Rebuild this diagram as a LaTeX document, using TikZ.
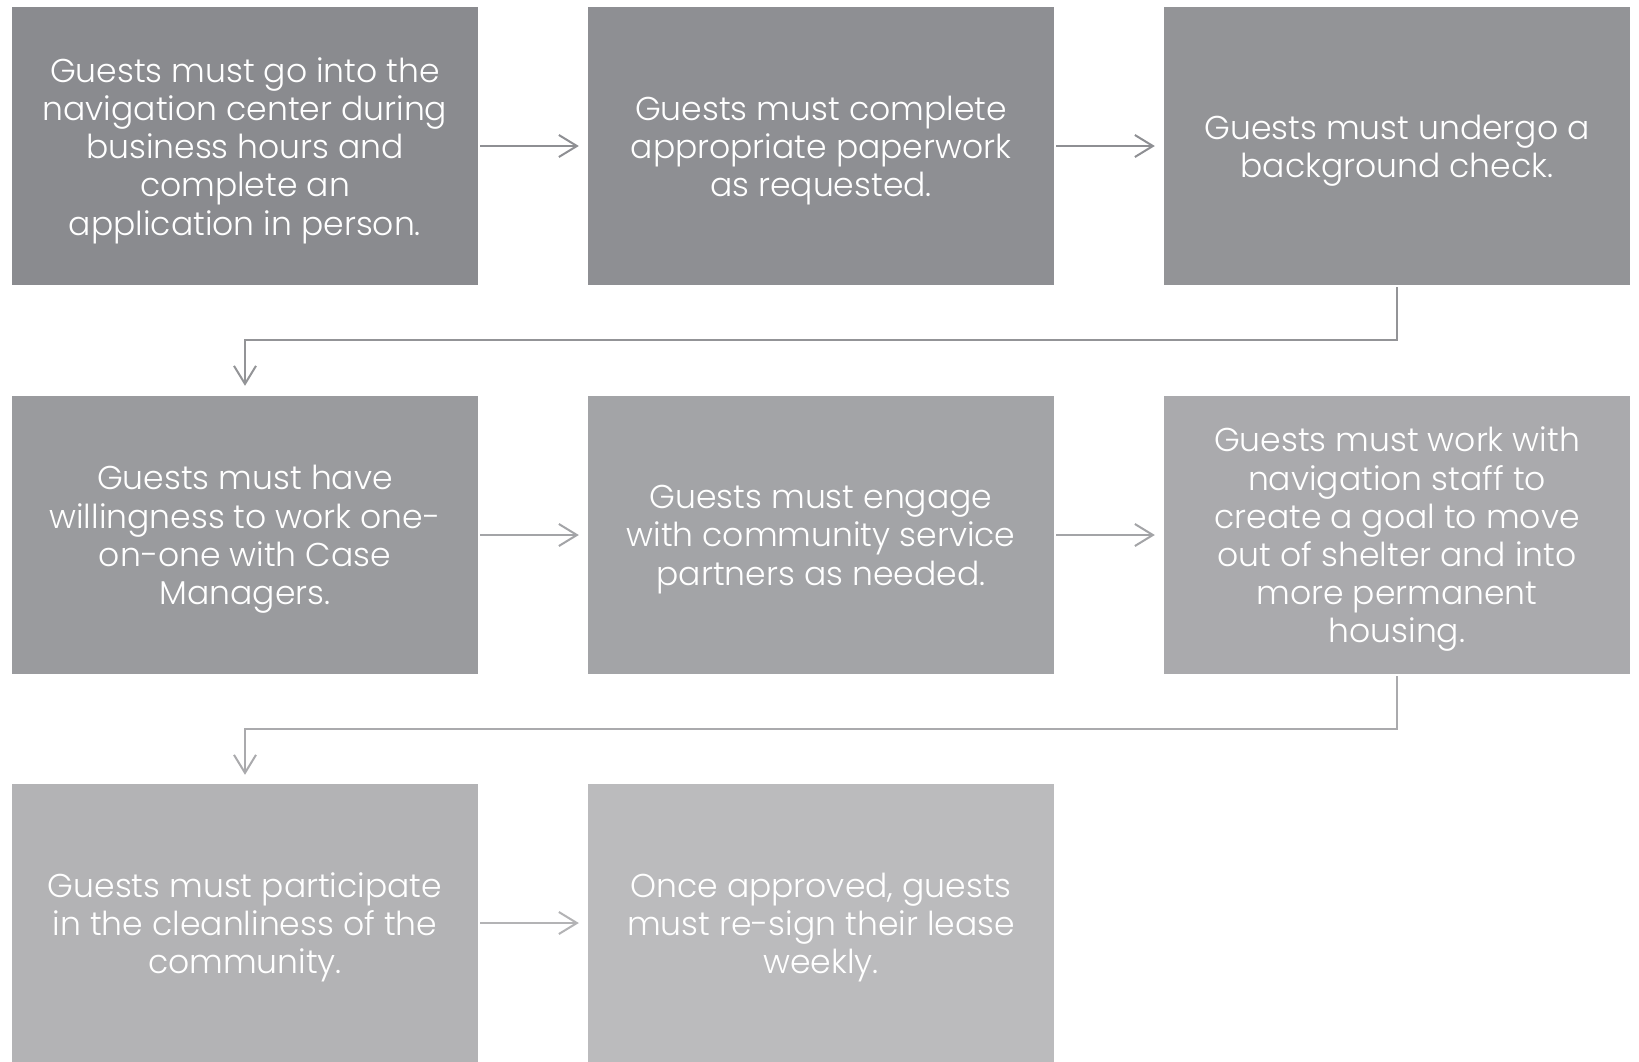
\documentclass[tikz,border=0pt]{standalone}
\usepackage{fontspec}
\setmainfont{Poppins}[UprightFont={* Light}]
\usetikzlibrary{arrows.meta}
\definecolor{c1}{RGB}{138,139,143}
\definecolor{c2}{RGB}{142,143,147}
\definecolor{c3}{RGB}{147,148,151}
\definecolor{c4}{RGB}{154,155,158}
\definecolor{c5}{RGB}{163,164,167}
\definecolor{c6}{RGB}{170,170,173}
\definecolor{c7}{RGB}{179,179,181}
\definecolor{c8}{RGB}{187,187,189}
\tikzset{
  stepbox/.style={rectangle, minimum width=466pt, minimum height=278pt, inner sep=0pt},
  steptext/.style={text=white, align=center, inner sep=0pt, font=\fontsize{33}{38.2}\selectfont},
  arr/.style={line width=2pt, -{Straight Barb[length=18pt,width=22pt,line width=2pt]}},
}
\begin{document}
\begin{tikzpicture}[x=1pt,y=-1pt]
\useasboundingbox[fill=white] (0,0) rectangle (1639,1061);
\node[stepbox, fill=c1] (b1) at (245,146) {};
\node[stepbox, fill=c2] (b2) at (821,146) {};
\node[stepbox, fill=c3] (b3) at (1397,146) {};
\node[stepbox, fill=c4] (b4) at (245,535) {};
\node[stepbox, fill=c5] (b5) at (821,535) {};
\node[stepbox, fill=c6] (b6) at (1397,535) {};
\node[stepbox, fill=c7] (b7) at (245,923) {};
\node[stepbox, fill=c8] (b8) at (821,923) {};
\node[steptext] (t1) at ([yshift=-4.5pt]b1.center) {Guests must go into the\\navigation center during\\business hours and\\complete an\\application in person.};
\node[steptext] (t2) at ([yshift=-4.5pt]b2.center) {Guests must complete\\appropriate paperwork\\as requested.};
\node[steptext] (t3) at ([yshift=-4.5pt]b3.center) {Guests must undergo a\\background check.};
\node[steptext] (t4) at ([yshift=-4.5pt]b4.center) {Guests must have\\willingness to work one-\\on-one with Case\\Managers.};
\node[steptext] (t5) at ([yshift=-4.5pt]b5.center) {Guests must engage\\with community service\\partners as needed.};
\node[steptext] (t6) at ([yshift=-4.5pt]b6.center) {Guests must work with\\navigation staff to\\create a goal to move\\out of shelter and into\\more permanent\\housing.};
\node[steptext] (t7) at ([yshift=-4.5pt]b7.center) {Guests must participate\\in the cleanliness of the\\community.};
\node[steptext] (t8) at ([yshift=-4.5pt]b8.center) {Once approved, guests\\must re-sign their lease\\weekly.};
\draw[arr, color=c2, shorten <=2pt, shorten >=9pt] (b1.east) -- (b2.west);
\draw[arr, color=c2, shorten <=2pt, shorten >=9pt] (b2.east) -- (b3.west);
\draw[arr, color=c3, shorten >=10pt] ([yshift=-2pt]b3.south) -- ++(0,53) -| (b4.north);
\draw[arr, color=c5, shorten <=2pt, shorten >=9pt] (b4.east) -- (b5.west);
\draw[arr, color=c5, shorten <=2pt, shorten >=9pt] (b5.east) -- (b6.west);
\draw[arr, color=c6, shorten >=9pt] ([yshift=-2pt]b6.south) -- ++(0,53) -| (b7.north);
\draw[arr, color=c7, shorten <=2pt, shorten >=9pt] (b7.east) -- (b8.west);
\end{tikzpicture}
\end{document}
